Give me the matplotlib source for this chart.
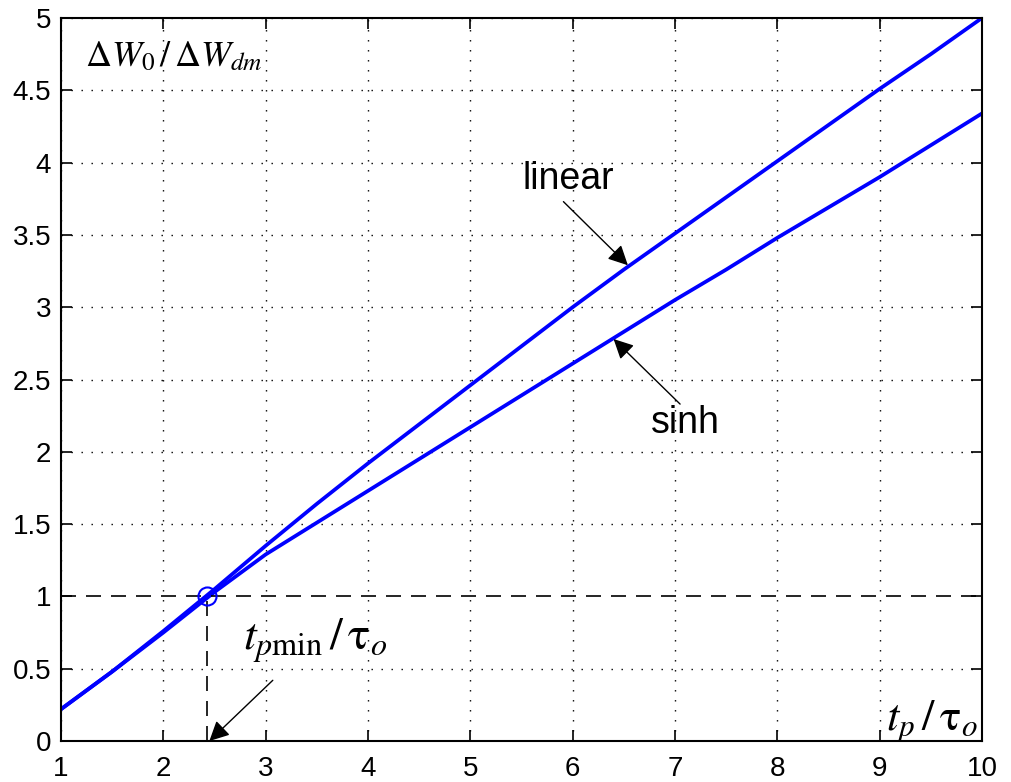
import numpy as np
import matplotlib.pyplot as plt

plt.rcParams['font.family'] = ['Liberation Sans', 'DejaVu Sans']
plt.rcParams['mathtext.fontset'] = 'stix'

# energy ratio vs normalised pulse length
tp = [1.0, 1.5, 2.0, 2.5, 3.0, 3.5, 4.0, 4.5, 5.0, 5.5, 6.0, 6.5, 7.0, 7.5, 8.0, 8.5, 9.0, 9.5, 10.0]
w_linear = [0.22, 0.48, 0.76, 1.05, 1.35, 1.64, 1.92, 2.19, 2.46, 2.73, 3.00, 3.26, 3.51, 3.76, 4.01, 4.26, 4.51, 4.75, 5.00]
w_sinh = [0.22, 0.48, 0.75, 1.03, 1.29, 1.51, 1.73, 1.95, 2.17, 2.39, 2.61, 2.83, 3.05, 3.26, 3.48, 3.69, 3.90, 4.12, 4.34]

tp_min = 2.43
w_ref = 1.0

fig = plt.figure(figsize=(10.11, 7.82), dpi=100)
ax = fig.add_axes([0.0603, 0.0524, 0.9110, 0.9246])

ax.plot(tp, w_linear, color=(0, 0, 1), lw=2.7)
ax.plot(tp, w_sinh, color=(0, 0, 1), lw=2.7)

# reference level and crossing point
ax.plot([1, 10], [w_ref, w_ref], color='k', lw=1.2, ls=(0, (9, 6)))
ax.plot([tp_min, tp_min], [0, w_ref], color='k', lw=1.2, ls=(0, (9, 6)))
ax.plot([tp_min], [w_ref], marker='o', ms=13, mfc='none', mec=(0, 0, 1), mew=1.5)

ax.set_xlim(1, 10)
ax.set_ylim(0, 5)
ax.set_xticks(np.arange(1, 11, 1))
ax.set_yticks(np.arange(0, 5.01, 0.5))
ax.set_yticklabels(['0', '0.5', '1', '1.5', '2', '2.5', '3', '3.5', '4', '4.5', '5'])
ax.grid(True, color='k', lw=1.0, ls=(0, (1, 6.2)))
ax.get_ygridlines()[2].set_visible(False)
ax.tick_params(direction='in', length=8, width=1.2, top=True, right=True, labelsize=20)
ax.tick_params(axis='x', pad=11)
ax.tick_params(axis='y', pad=7)
for s in ax.spines.values():
    s.set_linewidth(1.5)

ax.text(1.235, 4.67, r'$\Delta W_0\,/\,\Delta W_{dm}$', fontsize=26, va='baseline', ha='left')
ax.text(9.96, 0.076, r'$t_p\,/\,\mathrm{\tau}_o$', fontsize=32, va='baseline', ha='right')
ax.text(2.78, 0.63, r'$t_{p\mathrm{min}}\,/\,\mathrm{\tau}_o$', fontsize=33, va='baseline', ha='left')

arrow = dict(arrowstyle='-|>', color='k', lw=1.0, mutation_scale=30, shrinkA=0, shrinkB=0)
ax.annotate('', xy=(tp_min + 0.02, 0.0), xytext=(3.07, 0.42), arrowprops=arrow)
ax.annotate('', xy=(6.54, 3.29), xytext=(5.91, 3.73), arrowprops=arrow)
ax.annotate('', xy=(6.40, 2.78), xytext=(7.05, 2.33), arrowprops=arrow)
ax.text(5.96, 3.816, 'linear', fontsize=27, ha='center', va='baseline')
ax.text(7.10, 2.13, 'sinh', fontsize=27, ha='center', va='baseline')

fig.savefig('out.png', dpi=100)
